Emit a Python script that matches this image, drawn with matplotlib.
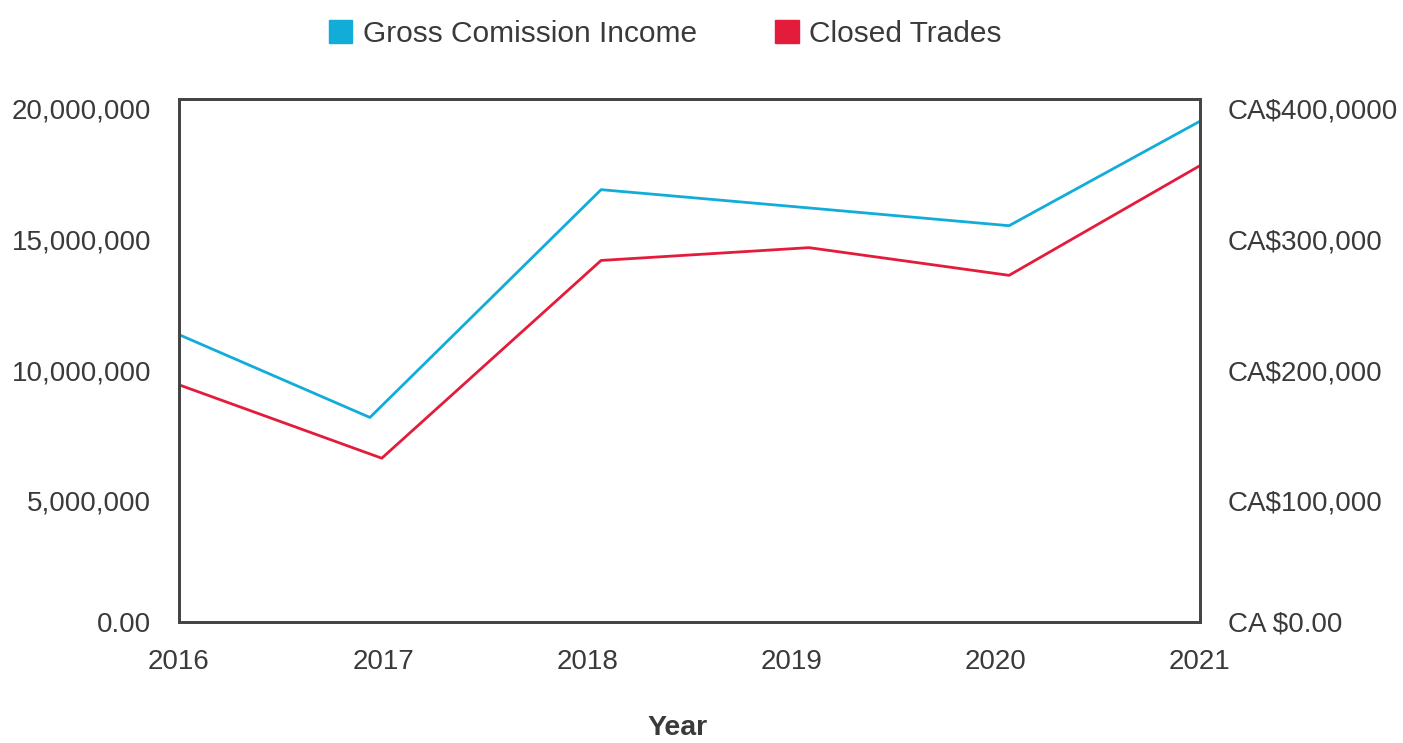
import matplotlib
matplotlib.use("Agg")
import matplotlib.pyplot as plt
from matplotlib.patches import Patch

plt.rcParams['font.family'] = ['Liberation Sans', 'DejaVu Sans']

# data (x positions as they sit on the year scale)
years = [2016, 2017, 2018, 2019, 2020, 2021]
gci_x = [2016.0, 2016.935, 2018.067, 2019.085, 2020.065, 2021.0]
gci = [10.98e6, 7.81e6, 16.53e6, 15.83e6, 15.15e6, 19.15e6]
trades_x = [2016.0, 2016.993, 2018.067, 2019.085, 2020.065, 2021.0]
trades = [9.06e6, 6.25e6, 13.82e6, 14.31e6, 13.25e6, 17.45e6]

left_ticks = [0, 5e6, 10e6, 15e6, 20e6]
left_labels = ["0.00", "5,000,000", "10,000,000", "15,000,000", "20,000,000"]
right_ticks = [0, 100000, 200000, 300000, 400000]
right_labels = ["CA $0.00", "CA$100,000", "CA$200,000", "CA$300,000", "CA$400,0000"]

blue = "#12acd9"
red = "#e31c3b"
txt = "#3a3a3a"
frame = "#444444"

fig = plt.figure(figsize=(14.03, 7.43), dpi=100)
ax = fig.add_axes([179 / 1403, 1 - 621.5 / 743, 1021 / 1403, 522.5 / 743])
ax2 = ax.twinx()

ax.plot(gci_x, gci, color=blue, lw=2)
ax.plot(trades_x, trades, color=red, lw=2)

ax.set_xlim(2016, 2021)
ax.set_ylim(0, 20e6)
ax2.set_ylim(0, 400000)

ax.set_xticks(years)
ax.set_xticklabels([str(y) for y in years])
ax.set_yticks(left_ticks)
ax.set_yticklabels(left_labels)
ax2.set_yticks(right_ticks)
ax2.set_yticklabels(right_labels)

ax.tick_params(axis='x', length=0, pad=20, labelsize=20, labelcolor=txt)
ax.tick_params(axis='y', length=0, pad=20, labelsize=20, labelcolor=txt)
ax2.tick_params(axis='y', length=0, pad=20, labelsize=20, labelcolor=txt)

for lab in ax.get_yticklabels()[1:] + ax2.get_yticklabels()[1:]:
    lab.set_verticalalignment('top')

for a in (ax, ax2):
    for s in a.spines.values():
        s.set_color(frame)
        s.set_linewidth(2)

handles = [Patch(color=blue, label="Gross Comission Income"),
           Patch(color=red, label="Closed Trades")]
fig.legend(handles=handles, loc='upper center', bbox_to_anchor=(665 / 1403, 1 - 5 / 743),
           ncol=2, frameon=False, fontsize=21.5, handlelength=0.8, handleheight=0.8,
           handletextpad=0.35, columnspacing=2.6, borderpad=0, labelcolor=txt)

fig.text(678 / 1403, 1 - 728 / 743, "Year", ha='center', va='center',
         fontsize=20.5, fontweight='bold', color=txt)

fig.savefig("out.png", dpi=100)
